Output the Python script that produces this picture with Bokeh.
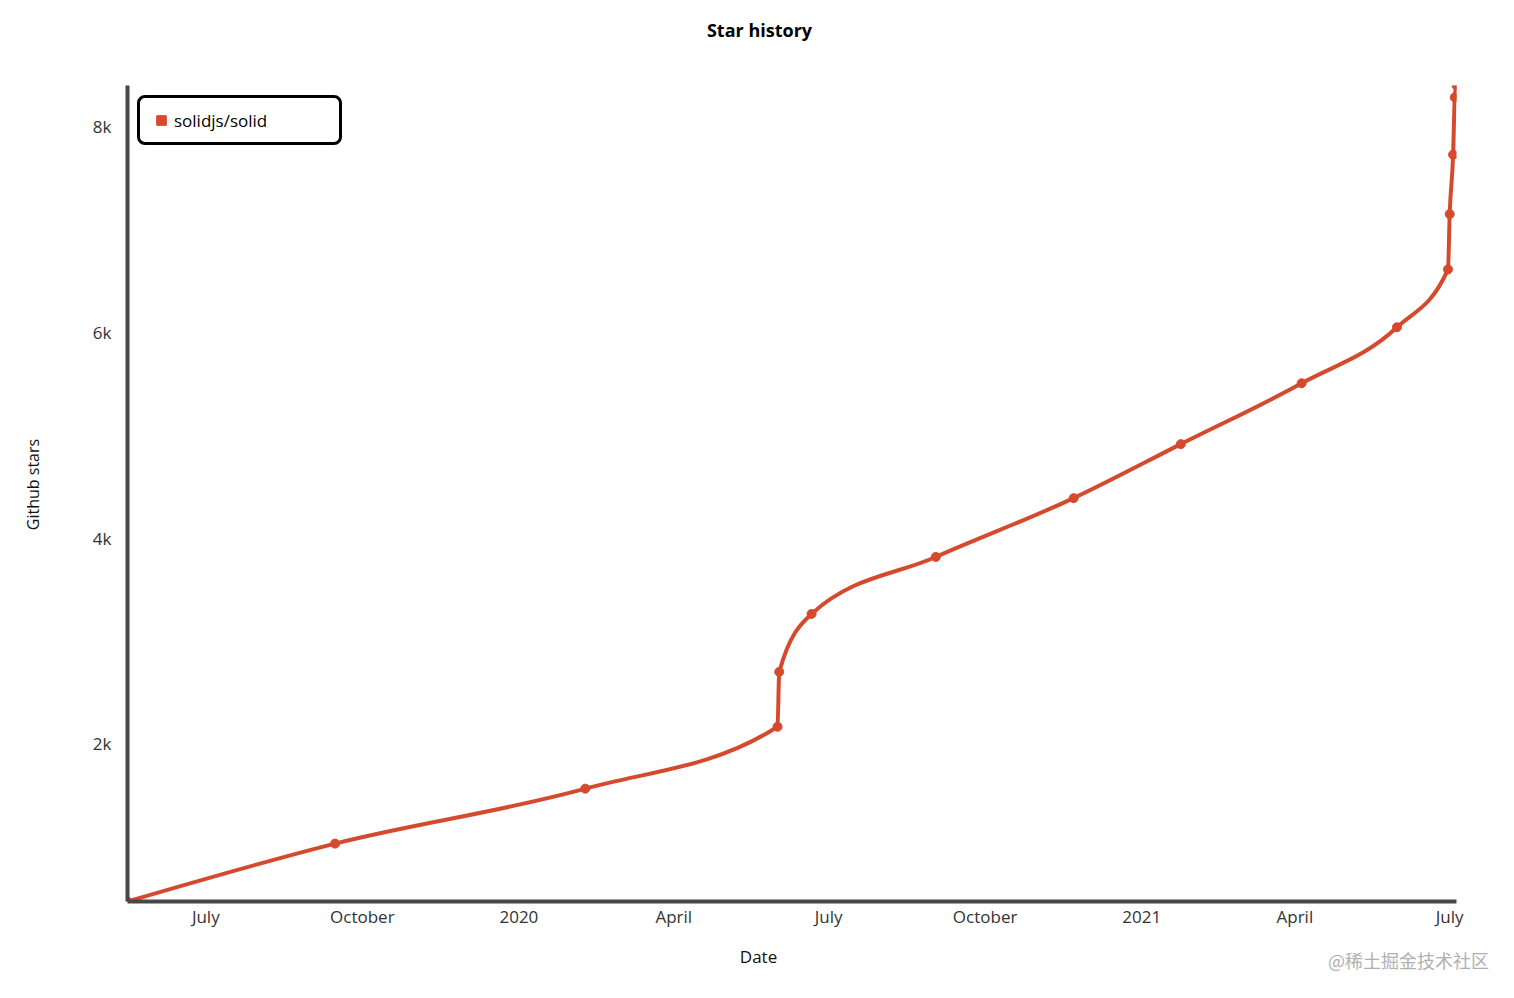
import numpy as np
import pandas as pd
from bokeh.plotting import figure
from bokeh.models import (FixedTicker, Legend, LegendItem, LinearAxis,
                          ColumnDataSource, Range1d)
from bokeh.embed import file_html
from bokeh.resources import INLINE

# ---- data ----
dates = ["2019-05-16", "2019-09-15", "2020-02-09", "2020-06-01", "2020-06-02",
         "2020-06-21", "2020-09-02", "2020-11-22", "2021-01-24", "2021-04-05",
         "2021-05-31", "2021-06-30", "2021-07-01", "2021-07-03", "2021-07-04",
         "2021-07-05"]
stars = [466, 1029, 1563, 2165, 2699, 3262, 3816, 4388, 4913, 5505,
         6049, 6612, 7150, 7728, 8285, 8400]
series_name = "solidjs/solid"

x_tick_dates = ["2019-07-01", "2019-10-01", "2020-01-01", "2020-04-01",
                "2020-07-01", "2020-10-01", "2021-01-01", "2021-04-01",
                "2021-07-01"]
x_tick_labels = ["July", "October", "2020", "April", "July", "October",
                 "2021", "April", "July"]
y_ticks = [2000, 4000, 6000, 8000]
y_tick_labels = ["2k", "4k", "6k", "8k"]

title_text = "Star history"
x_label = "Date"
y_label = "Github stars"
watermark = "@稀土掘金技术社区"

# ---- styling / layout ----
FONT = "Open Sans"
RED = "#d54a2d"
AXIS = "#474747"
W, H = 1498, 982
LEFT, RIGHT, TOP, BOTTOM = 127, 1456, 85, 901   # frame edges in px

def to_ms(ds):
    return (pd.to_datetime(ds).astype("int64") // 10**6).astype(float).to_numpy()

x = to_ms(dates)
y = np.array(stars, dtype=float)
x0r, x1r = x[0], x[-1]
y0r, y1r = float(min(stars)), float(max(stars))

def px_to_x(px):   # horizontal pixel -> x coordinate (for text placement)
    return x0r + (px - LEFT) / (RIGHT - LEFT) * (x1r - x0r)

def px_to_y(py):   # vertical pixel -> y coordinate (for text placement)
    return y0r + (BOTTOM - py) / (BOTTOM - TOP) * (y1r - y0r)

# monotone-X cubic (same curve type as chart.xkcd / d3.curveMonotoneX)
def monotone_slopes(xv, yv):
    n = len(xv)
    h = np.diff(xv)
    s = np.diff(yv) / h
    t = np.zeros(n)
    for i in range(1, n - 1):
        h0, h1 = h[i - 1], h[i]
        s0, s1 = s[i - 1], s[i]
        p = (s0 * h1 + s1 * h0) / (h0 + h1)
        t[i] = (np.sign(s0) + np.sign(s1)) * min(abs(s0), abs(s1), 0.5 * abs(p))
    t[0] = (3 * s[0] - t[1]) / 2
    t[-1] = (3 * s[-1] - t[-2]) / 2
    return t

t = monotone_slopes(x, y)
dx = np.diff(x) / 3.0
bez = ColumnDataSource(dict(
    x0=x[:-1], y0=y[:-1], x1=x[1:], y1=y[1:],
    cx0=x[:-1] + dx, cy0=y[:-1] + dx * t[:-1],
    cx1=x[1:] - dx, cy1=y[1:] - dx * t[1:],
))

p = figure(width=W, height=H, x_axis_type="datetime",
           x_range=Range1d(x0r, x1r), y_range=Range1d(y0r, y1r),
           output_backend="svg", toolbar_location=None,
           min_border_left=LEFT, min_border_right=W - RIGHT,
           min_border_top=TOP, min_border_bottom=H - BOTTOM,
           background_fill_color="white", border_fill_color="white")
p.outline_line_color = None
p.grid.visible = False

p.bezier(x0="x0", y0="y0", x1="x1", y1="y1", cx0="cx0", cy0="cy0",
         cx1="cx1", cy1="cy1", source=bez, line_color=RED, line_width=4,
         line_cap="round")
p.scatter(x=x, y=y, size=9, color=RED)

def no_ticks(ax):
    ax.major_tick_out = 0
    ax.major_tick_in = 0
    ax.minor_tick_out = 0
    ax.minor_tick_in = 0
    ax.major_tick_line_color = None
    ax.minor_tick_line_color = None

# main axes
for ax in (p.xaxis[0], p.yaxis[0]):
    ax.axis_line_color = AXIS
    ax.axis_line_width = 4
    no_ticks(ax)
    ax.major_label_text_font = FONT
    ax.major_label_text_font_size = "17px"
    ax.major_label_text_color = "#333333"

xt = to_ms(x_tick_dates)
p.xaxis.ticker = FixedTicker(ticks=list(xt))
p.xaxis.major_label_overrides = {float(v): lab for v, lab in zip(xt, x_tick_labels)}
p.xaxis.major_label_standoff = 3

p.yaxis.ticker = FixedTicker(ticks=y_ticks)
p.yaxis.major_label_overrides = {float(v): lab for v, lab in zip(y_ticks, y_tick_labels)}
p.yaxis.major_label_standoff = 16

# text-only axes used to place the title, axis titles and watermark
def text_axis(side, pos, text, font, size, color, standoff, style="normal",
              orientation="horizontal"):
    ax = LinearAxis(ticker=FixedTicker(ticks=[pos]),
                    major_label_overrides={pos: text},
                    axis_line_color=None,
                    major_label_text_font=font,
                    major_label_text_font_size=size,
                    major_label_text_font_style=style,
                    major_label_text_color=color,
                    major_label_standoff=standoff,
                    major_label_orientation=orientation)
    no_ticks(ax)
    p.add_layout(ax, side)
    return ax

text_axis("above", float(px_to_x(759)), title_text, FONT, "18px", "black", 44,
          style="bold")
text_axis("below", float(px_to_x(758)), x_label, FONT, "17px", "#111111", 14)
text_axis("below", float(px_to_x(1408)), watermark, "Noto Sans CJK SC", "18px",
          "#b0b0b0", -24)
text_axis("left", float(px_to_y(484)), y_label, FONT, "16px", "#111111", 46,
          orientation="parallel")

# legend
leg_r = p.scatter(x=[x[0]], y=[float("nan")], marker="square", size=10, color=RED)
legend = Legend(items=[LegendItem(label=series_name, renderers=[leg_r])],
                location="top_left", margin=10, padding=9,
                glyph_width=24, glyph_height=26, label_standoff=1,
                label_width=156, label_height=26,
                label_text_font=FONT, label_text_font_size="17px",
                label_text_color="black",
                border_line_color="black", border_line_width=3,
                border_line_alpha=1,
                background_fill_color="white", background_fill_alpha=1)
if "border_radius" in Legend.properties():
    legend.border_radius = 8
p.add_layout(legend)

open("out.html", "w").write(file_html(p, INLINE))
